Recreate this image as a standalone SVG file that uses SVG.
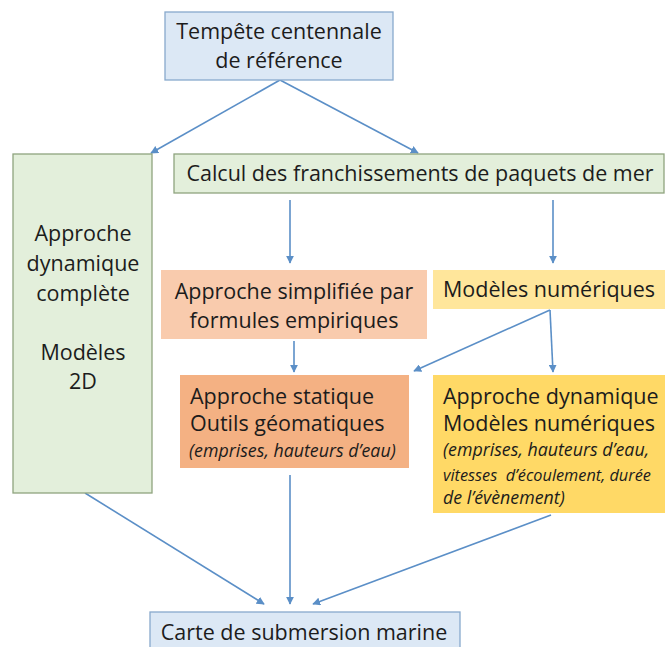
<svg xmlns="http://www.w3.org/2000/svg" width="665" height="647" viewBox="0 0 665 647">
<defs>
<marker id="ah" viewBox="0 0 10 10" refX="9" refY="5" markerWidth="8" markerHeight="8" markerUnits="userSpaceOnUse" orient="auto">
<path d="M0,0 L10,5 L0,10 z" fill="#5b8fc7"/>
</marker>
<style>
text{font-family:"Open Sans","Liberation Sans",sans-serif;font-size:21.5px;fill:#1c1c1c}
.c{text-anchor:middle}
.i{font-style:italic;font-size:17.8px}
.e{stroke:#5b8fc7;stroke-width:1.6;fill:none;marker-end:url(#ah)}
</style>
</defs>
<rect width="665" height="647" fill="#ffffff"/>
<g id="connectors">
<line class="e" x1="280" y1="80" x2="151" y2="153"/>
<line class="e" x1="280" y1="80" x2="418" y2="153"/>
<line class="e" x1="290" y1="200" x2="290" y2="263"/>
<line class="e" x1="553" y1="200" x2="553" y2="263"/>
<line class="e" x1="294" y1="341" x2="294" y2="372"/>
<line class="e" x1="550" y1="310" x2="414" y2="371"/>
<line class="e" x1="550" y1="310" x2="553" y2="372"/>
<line class="e" x1="85" y1="493" x2="264" y2="604"/>
<line class="e" x1="290" y1="475" x2="290" y2="604"/>
<line class="e" x1="551" y1="515" x2="313" y2="604"/>
</g>
<g id="tempete">
<rect x="165" y="12" width="228" height="68" fill="#dce8f5" stroke="#88a9cc" stroke-width="1.3"/>
<text class="c" x="279" y="39">Tempête centennale</text>
<text class="c" x="279" y="68">de référence</text>
</g>
<g id="approche-dynamique-complete">
<rect x="13" y="154" width="139" height="339" fill="#e3efdb" stroke="#8fa47f" stroke-width="1.3"/>
<text class="c" x="83" y="241">Approche</text>
<text class="c" x="83" y="271">dynamique</text>
<text class="c" x="83" y="301">complète</text>
<text class="c" x="83" y="360">Modèles</text>
<text class="c" x="83" y="389">2D</text>
</g>
<g id="calcul">
<rect x="174" y="154" width="490" height="39" fill="#e3efdb" stroke="#8fa47f" stroke-width="1.3"/>
<text class="c" x="420" y="181">Calcul des franchissements de paquets de mer</text>
</g>
<g id="simplifiee">
<rect x="161" y="270" width="266" height="69" fill="#f9cbad"/>
<text class="c" x="294" y="299">Approche simplifiée par</text>
<text class="c" x="294" y="328">formules empiriques</text>
</g>
<g id="modeles-numeriques">
<rect x="433" y="270" width="232" height="39" fill="#ffe69b"/>
<text x="443" y="297">Modèles numériques</text>
</g>
<g id="statique">
<rect x="180" y="375" width="229" height="93" fill="#f4b183"/>
<text x="190" y="404">Approche statique</text>
<text x="190" y="431">Outils géomatiques</text>
<text class="i" x="189" y="457">(emprises, hauteurs d’eau)</text>
</g>
<g id="dynamique">
<rect x="433" y="375" width="232" height="138" fill="#ffd966"/>
<text x="443" y="404">Approche dynamique</text>
<text x="443" y="431">Modèles numériques</text>
<text class="i" x="443" y="456">(emprises, hauteurs d’eau,</text>
<text class="i" x="443" y="481" style="font-size:16.3px" xml:space="preserve">vitesses  d’écoulement, durée</text>
<text class="i" x="443" y="504">de l’évènement)</text>
</g>
<g id="carte">
<rect x="150" y="612" width="310" height="40" fill="#dce8f5" stroke="#88a9cc" stroke-width="1.3"/>
<text class="c" x="304" y="640">Carte de submersion marine</text>
</g>
</svg>
